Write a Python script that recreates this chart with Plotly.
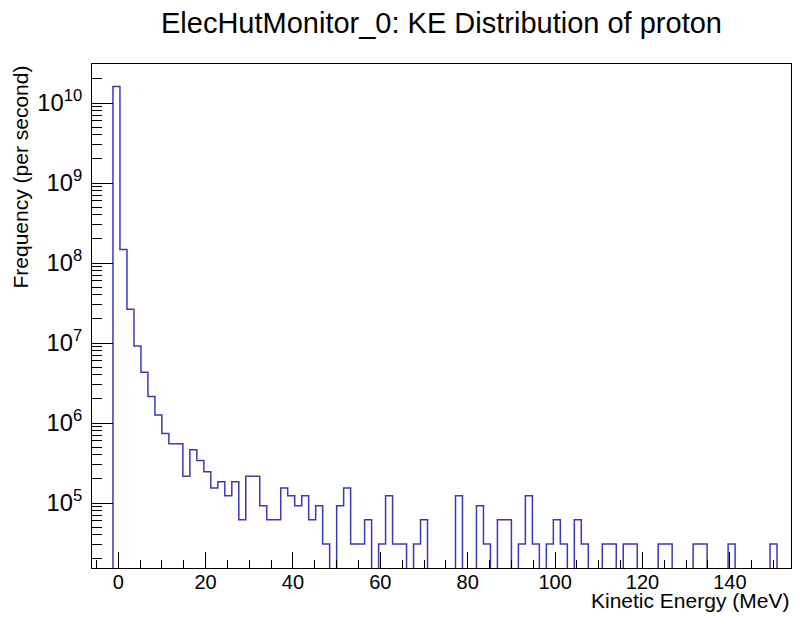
import plotly.graph_objects as go

# Histogram definition (100 bins from -6 to 154 MeV)
x_min = -6.0
x_max = 154.0
n_bins = 100

# Frequency per bin (per second); 0 = empty bin
frequency = [
    0, 0, 0, 1.61e10, 1.48e8, 2.65e7, 9.2e6, 4.3e6, 2.15e6, 1.26e6,
    7.4e5, 5.5e5, 5.5e5, 2.156e5, 4.62e5, 3.388e5, 2.464e5, 1.54e5, 1.848e5, 1.232e5,
    1.848e5, 6.16e4, 2.156e5, 2.156e5, 9.24e4, 6.16e4, 6.16e4, 1.54e5, 1.232e5, 9.24e4,
    1.232e5, 6.16e4, 9.24e4, 3.08e4, 0, 9.24e4, 1.54e5, 3.08e4, 3.08e4, 6.16e4,
    0, 3.08e4, 1.232e5, 3.08e4, 3.08e4, 0, 3.08e4, 6.16e4, 0, 0,
    0, 0, 1.232e5, 0, 0, 9.24e4, 3.08e4, 0, 6.16e4, 6.16e4,
    0, 3.08e4, 1.232e5, 3.08e4, 0, 3.08e4, 6.16e4, 3.08e4, 0, 6.16e4,
    3.08e4, 0, 0, 3.08e4, 3.08e4, 0, 3.08e4, 3.08e4, 0, 0,
    0, 3.08e4, 3.08e4, 0, 0, 0, 3.08e4, 3.08e4, 0, 0,
    0, 3.08e4, 0, 0, 0, 0, 0, 3.08e4, 0, 0,
]

x_tick_values = [0, 20, 40, 60, 80, 100, 120, 140]

title_text = "ElecHutMonitor_0: KE Distribution of proton"
x_title = "Kinetic Energy (MeV)"
y_title = "Frequency (per second)"

# Build step outline (ROOT-style histogram line)
width = (x_max - x_min) / n_bins
edges = [x_min + i * width for i in range(n_bins + 1)]
floor_val = 1.0  # empty bins drop below the visible range, like ROOT on log scale
y_vals = [v if v > 0 else floor_val for v in frequency]
xs = edges[:-1] + [edges[-1]]
ys = y_vals + [y_vals[-1]]

line_color = "rgb(58,58,185)"
font_family = "Liberation Sans, Arial, Helvetica, sans-serif"

fig = go.Figure()
fig.add_trace(go.Scatter(
    x=xs, y=ys, mode="lines", line=dict(color=line_color, width=1.5, shape="hv"),
    hoverinfo="skip", showlegend=False,
))

fig.update_layout(
    width=793, height=619,
    margin=dict(l=92, r=2, t=64, b=51),
    paper_bgcolor="white", plot_bgcolor="white",
    font=dict(family=font_family, color="black", size=20),
    showlegend=False,
)

fig.update_xaxes(
    range=[x_min, x_max], showgrid=False, zeroline=False,
    showline=True, linecolor="black", linewidth=1, mirror=True,
    ticks="inside", ticklen=16, tickwidth=1, tickcolor="black",
    tickvals=x_tick_values, ticklabelstandoff=-4,
    tickfont=dict(size=20, family=font_family),
    minor=dict(ticks="inside", ticklen=8, tickwidth=1, tickcolor="black", dtick=5, tick0=0, showgrid=False),
)

fig.update_yaxes(
    type="log", range=[4.1875, 10.4875], showgrid=False, zeroline=False,
    showline=True, linecolor="black", linewidth=1, mirror=True,
    ticks="inside", ticklen=21, tickwidth=1, tickcolor="black",
    dtick=1, exponentformat="power", ticklabelstandoff=5,
    tickfont=dict(size=19, family=font_family),
    minor=dict(ticks="inside", ticklen=10, tickwidth=1, tickcolor="black", dtick="D1", showgrid=False),
)

fig.add_annotation(
    text=title_text, xref="paper", yref="paper", x=0.5, y=1, yshift=23,
    xanchor="center", yanchor="bottom", showarrow=False,
    font=dict(size=29, family=font_family, color="black"),
)
fig.add_annotation(
    text=x_title, xref="paper", yref="paper", x=1, y=0, yshift=-19,
    xanchor="right", yanchor="top", showarrow=False,
    font=dict(size=21, family=font_family, color="black"),
)
fig.add_annotation(
    text=y_title, xref="paper", yref="paper", x=0, y=1, xshift=-72,
    xanchor="center", yanchor="top", textangle=-90, showarrow=False,
    font=dict(size=21, family=font_family, color="black"),
)

fig.write_html("out.html", config={"displayModeBar": False},
               post_script="document.body.style.margin='0';")
